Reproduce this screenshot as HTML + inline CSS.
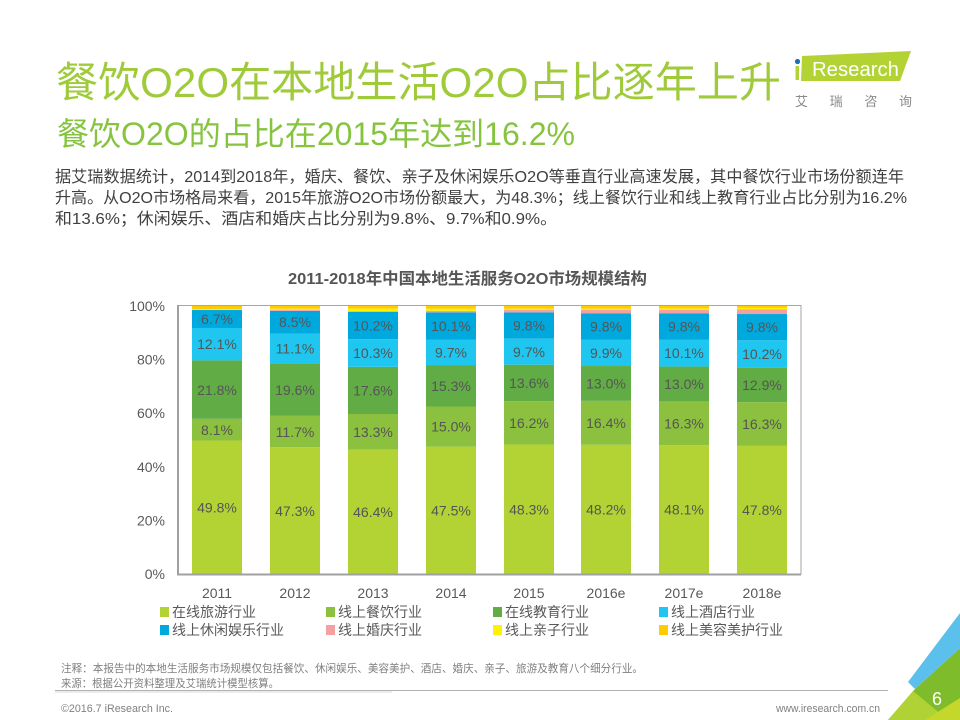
<!DOCTYPE html>
<html>
<head>
<meta charset="utf-8">
<style>
html,body{margin:0;padding:0;background:#fff;}
body{width:960px;height:720px;overflow:hidden;}
svg{display:block;font-family:"Liberation Sans","Noto Sans CJK SC",sans-serif;}
</style>
</head>
<body>
<svg width="960" height="720" viewBox="0 0 960 720" xmlns="http://www.w3.org/2000/svg">
  <!-- Titles -->
  <text x="56" y="97" font-size="42" fill="#9fcb3a" textLength="725" lengthAdjust="spacingAndGlyphs">餐饮O2O在本地生活O2O占比逐年上升</text>
  <text x="57" y="145" font-size="32" fill="#86c440" textLength="518" lengthAdjust="spacingAndGlyphs">餐饮O2O的占比在2015年达到16.2%</text>

  <!-- Logo -->
  <polygon points="802,56 911,51 900,81 801,81" fill="#b3d234"/>
  <rect x="795.5" y="66" width="3.5" height="14" fill="#b3d234"/>
  <circle cx="797.5" cy="61.5" r="2.6" fill="#1d6fb8"/>
  <text x="812" y="76" font-size="20.5" fill="#ffffff" textLength="87" lengthAdjust="spacingAndGlyphs">Research</text>
  <text x="795" y="106" font-size="13" fill="#8a8a8a" textLength="117" lengthAdjust="spacing">艾瑞咨询</text>

  <!-- Body text -->
  <g font-size="16" fill="#404040">
    <text x="55" y="182" textLength="849" lengthAdjust="spacingAndGlyphs">据艾瑞数据统计，2014到2018年，婚庆、餐饮、亲子及休闲娱乐O2O等垂直行业高速发展，其中餐饮行业市场份额连年</text>
    <text x="55" y="203" textLength="852" lengthAdjust="spacingAndGlyphs">升高。从O2O市场格局来看，2015年旅游O2O市场份额最大，为48.3%；线上餐饮行业和线上教育行业占比分别为16.2%</text>
    <text x="55" y="224" textLength="502" lengthAdjust="spacingAndGlyphs">和13.6%；休闲娱乐、酒店和婚庆占比分别为9.8%、9.7%和0.9%。</text>
  </g>

  <!-- Chart title -->
  <text x="288" y="284" font-size="16" font-weight="bold" fill="#555555" textLength="359" lengthAdjust="spacingAndGlyphs">2011-2018年中国本地生活服务O2O市场规模结构</text>

  <!-- Frame -->
  <rect x="178" y="305.5" width="623" height="268.5" fill="none" stroke="#a6a6a6" stroke-width="1"/>

  <!-- Bars -->
  <g>
    <rect x="192" y="440.54" width="50" height="133.46" fill="#b3d234"/>
    <rect x="192" y="418.83" width="50" height="21.71" fill="#8cc13f"/>
    <rect x="192" y="360.4" width="50" height="58.43" fill="#62ac46"/>
    <rect x="192" y="327.98" width="50" height="32.42" fill="#1fc6f0"/>
    <rect x="192" y="310.02" width="50" height="17.96" fill="#00a9dd"/>
    <rect x="192" y="308.95" width="50" height="1.07" fill="#fff200"/>
    <rect x="192" y="306" width="50" height="2.95" fill="#ffcc00"/>
  </g>
  <g>
    <rect x="270" y="447.24" width="50" height="126.76" fill="#b3d234"/>
    <rect x="270" y="415.88" width="50" height="31.36" fill="#8cc13f"/>
    <rect x="270" y="363.35" width="50" height="52.53" fill="#62ac46"/>
    <rect x="270" y="333.6" width="50" height="29.75" fill="#1fc6f0"/>
    <rect x="270" y="310.82" width="50" height="22.78" fill="#00a9dd"/>
    <rect x="270" y="309.75" width="50" height="1.07" fill="#f4a0a0"/>
    <rect x="270" y="308.68" width="50" height="1.07" fill="#fff200"/>
    <rect x="270" y="306" width="50" height="2.68" fill="#ffcc00"/>
  </g>
  <g>
    <rect x="348" y="449.65" width="50" height="124.35" fill="#b3d234"/>
    <rect x="348" y="414.0" width="50" height="35.65" fill="#8cc13f"/>
    <rect x="348" y="366.84" width="50" height="47.16" fill="#62ac46"/>
    <rect x="348" y="339.23" width="50" height="27.61" fill="#1fc6f0"/>
    <rect x="348" y="311.9" width="50" height="27.33" fill="#00a9dd"/>
    <rect x="348" y="311.09" width="50" height="0.81" fill="#f4a0a0"/>
    <rect x="348" y="308.68" width="50" height="2.41" fill="#fff200"/>
    <rect x="348" y="306" width="50" height="2.68" fill="#ffcc00"/>
  </g>
  <g>
    <rect x="426" y="446.7" width="50" height="127.3" fill="#b3d234"/>
    <rect x="426" y="406.5" width="50" height="40.2" fill="#8cc13f"/>
    <rect x="426" y="365.5" width="50" height="41.0" fill="#62ac46"/>
    <rect x="426" y="339.5" width="50" height="26.0" fill="#1fc6f0"/>
    <rect x="426" y="312.43" width="50" height="27.07" fill="#00a9dd"/>
    <rect x="426" y="310.82" width="50" height="1.61" fill="#f4a0a0"/>
    <rect x="426" y="308.68" width="50" height="2.14" fill="#fff200"/>
    <rect x="426" y="306" width="50" height="2.68" fill="#ffcc00"/>
  </g>
  <g>
    <rect x="504" y="444.56" width="50" height="129.44" fill="#b3d234"/>
    <rect x="504" y="401.14" width="50" height="43.42" fill="#8cc13f"/>
    <rect x="504" y="364.69" width="50" height="36.45" fill="#62ac46"/>
    <rect x="504" y="338.7" width="50" height="25.99" fill="#1fc6f0"/>
    <rect x="504" y="312.43" width="50" height="26.27" fill="#00a9dd"/>
    <rect x="504" y="310.02" width="50" height="2.41" fill="#f4a0a0"/>
    <rect x="504" y="308.68" width="50" height="1.34" fill="#fff200"/>
    <rect x="504" y="306" width="50" height="2.68" fill="#ffcc00"/>
  </g>
  <g>
    <rect x="581" y="444.82" width="50" height="129.18" fill="#b3d234"/>
    <rect x="581" y="400.87" width="50" height="43.95" fill="#8cc13f"/>
    <rect x="581" y="366.03" width="50" height="34.84" fill="#62ac46"/>
    <rect x="581" y="339.5" width="50" height="26.53" fill="#1fc6f0"/>
    <rect x="581" y="313.24" width="50" height="26.26" fill="#00a9dd"/>
    <rect x="581" y="310.02" width="50" height="3.22" fill="#f4a0a0"/>
    <rect x="581" y="308.68" width="50" height="1.34" fill="#fff200"/>
    <rect x="581" y="306" width="50" height="2.68" fill="#ffcc00"/>
  </g>
  <g>
    <rect x="659" y="445.09" width="50" height="128.91" fill="#b3d234"/>
    <rect x="659" y="401.41" width="50" height="43.68" fill="#8cc13f"/>
    <rect x="659" y="366.57" width="50" height="34.84" fill="#62ac46"/>
    <rect x="659" y="339.5" width="50" height="27.07" fill="#1fc6f0"/>
    <rect x="659" y="313.24" width="50" height="26.26" fill="#00a9dd"/>
    <rect x="659" y="310.02" width="50" height="3.22" fill="#f4a0a0"/>
    <rect x="659" y="308.41" width="50" height="1.61" fill="#fff200"/>
    <rect x="659" y="306" width="50" height="2.41" fill="#ffcc00"/>
  </g>
  <g>
    <rect x="737" y="445.9" width="50" height="128.1" fill="#b3d234"/>
    <rect x="737" y="402.21" width="50" height="43.69" fill="#8cc13f"/>
    <rect x="737" y="367.64" width="50" height="34.57" fill="#62ac46"/>
    <rect x="737" y="340.3" width="50" height="27.34" fill="#1fc6f0"/>
    <rect x="737" y="314.04" width="50" height="26.26" fill="#00a9dd"/>
    <rect x="737" y="309.22" width="50" height="4.82" fill="#f4a0a0"/>
    <rect x="737" y="307.88" width="50" height="1.34" fill="#fff200"/>
    <rect x="737" y="306" width="50" height="1.88" fill="#ffcc00"/>
  </g>

  <!-- Axes -->
  <line x1="178" y1="305" x2="178" y2="575" stroke="#a0a0a0" stroke-width="2"/>
  <line x1="177" y1="574.5" x2="801" y2="574.5" stroke="#a0a0a0" stroke-width="2"/>

  <!-- Y labels -->
  <g font-size="14" fill="#595959" text-anchor="end">
    <text x="165" y="311">100%</text>
    <text x="165" y="364.6">80%</text>
    <text x="165" y="418.2">60%</text>
    <text x="165" y="471.8">40%</text>
    <text x="165" y="525.4">20%</text>
    <text x="165" y="579">0%</text>
  </g>

  <!-- Bar value labels -->
  <g font-size="14" fill="#555555" text-anchor="middle">
    <text x="217" y="512.5">49.8%</text>
    <text x="217" y="435">8.1%</text>
    <text x="217" y="395">21.8%</text>
    <text x="217" y="349">12.1%</text>
    <text x="217" y="324">6.7%</text>

    <text x="295" y="516">47.3%</text>
    <text x="295" y="437">11.7%</text>
    <text x="295" y="395">19.6%</text>
    <text x="295" y="353.5">11.1%</text>
    <text x="295" y="327">8.5%</text>

    <text x="373" y="517">46.4%</text>
    <text x="373" y="437">13.3%</text>
    <text x="373" y="395.5">17.6%</text>
    <text x="373" y="358">10.3%</text>
    <text x="373" y="330.5">10.2%</text>

    <text x="451" y="515.5">47.5%</text>
    <text x="451" y="431.5">15.0%</text>
    <text x="451" y="391">15.3%</text>
    <text x="451" y="357.5">9.7%</text>
    <text x="451" y="331">10.1%</text>

    <text x="529" y="514.5">48.3%</text>
    <text x="529" y="428">16.2%</text>
    <text x="529" y="388">13.6%</text>
    <text x="529" y="357">9.7%</text>
    <text x="529" y="330.5">9.8%</text>

    <text x="606" y="514.5">48.2%</text>
    <text x="606" y="428">16.4%</text>
    <text x="606" y="388.5">13.0%</text>
    <text x="606" y="358">9.9%</text>
    <text x="606" y="331.5">9.8%</text>

    <text x="684" y="514.5">48.1%</text>
    <text x="684" y="428.5">16.3%</text>
    <text x="684" y="389">13.0%</text>
    <text x="684" y="358">10.1%</text>
    <text x="684" y="331.5">9.8%</text>

    <text x="762" y="515">47.8%</text>
    <text x="762" y="429">16.3%</text>
    <text x="762" y="390">12.9%</text>
    <text x="762" y="359">10.2%</text>
    <text x="762" y="332">9.8%</text>
  </g>

  <!-- X labels -->
  <g font-size="14" fill="#595959" text-anchor="middle">
    <text x="217" y="598">2011</text>
    <text x="295" y="598">2012</text>
    <text x="373" y="598">2013</text>
    <text x="451" y="598">2014</text>
    <text x="529" y="598">2015</text>
    <text x="606" y="598">2016e</text>
    <text x="684" y="598">2017e</text>
    <text x="762" y="598">2018e</text>
  </g>

  <!-- Legend -->
  <g font-size="14" fill="#595959">
    <rect x="160" y="607" width="9" height="10" fill="#b3d234"/>
    <text x="172" y="617">在线旅游行业</text>
    <rect x="326" y="607" width="9" height="10" fill="#8cc13f"/>
    <text x="338" y="617">线上餐饮行业</text>
    <rect x="493" y="607" width="9" height="10" fill="#62ac46"/>
    <text x="505" y="617">在线教育行业</text>
    <rect x="659" y="607" width="9" height="10" fill="#1fc6f0"/>
    <text x="671" y="617">线上酒店行业</text>

    <rect x="160" y="625" width="9" height="10" fill="#00a9dd"/>
    <text x="172" y="635">线上休闲娱乐行业</text>
    <rect x="326" y="625" width="9" height="10" fill="#f4a0a0"/>
    <text x="338" y="635">线上婚庆行业</text>
    <rect x="493" y="625" width="9" height="10" fill="#fff200"/>
    <text x="505" y="635">线上亲子行业</text>
    <rect x="659" y="625" width="9" height="10" fill="#ffcc00"/>
    <text x="671" y="635">线上美容美护行业</text>
  </g>

  <!-- Footer notes -->
  <g font-size="11" fill="#808080">
    <text x="61" y="672" textLength="582" lengthAdjust="spacingAndGlyphs">注释：本报告中的本地生活服务市场规模仅包括餐饮、休闲娱乐、美容美护、酒店、婚庆、亲子、旅游及教育八个细分行业。</text>
    <text x="61" y="687" textLength="218" lengthAdjust="spacingAndGlyphs">来源：根据公开资料整理及艾瑞统计模型核算。</text>
  </g>
  <line x1="55" y1="690.5" x2="888" y2="690.5" stroke="#b0b0b0" stroke-width="1"/>
  <line x1="55" y1="692" x2="392" y2="692" stroke="#d8d8d8" stroke-width="1"/>
  <g font-size="11" fill="#808080">
    <text x="61" y="712" textLength="112" lengthAdjust="spacingAndGlyphs">©2016.7 iResearch Inc.</text>
    <text x="880" y="712" text-anchor="end" textLength="104" lengthAdjust="spacingAndGlyphs">www.iresearch.com.cn</text>
  </g>

  <!-- Bottom-right decoration -->
  <polygon points="915,689 960,648 960,720 888,720" fill="#7fbc2b"/>
  <polygon points="888,720 913,691 948,720" fill="#b1d235"/>
  <polygon points="925,720 960,698 960,720" fill="#c3d82a"/>
  <polygon points="908,682 960,613 960,648 915,689" fill="#5bc0eb"/>
  <text x="937" y="705" font-size="18" fill="#ffffff" text-anchor="middle">6</text>
</svg>
</body>
</html>
